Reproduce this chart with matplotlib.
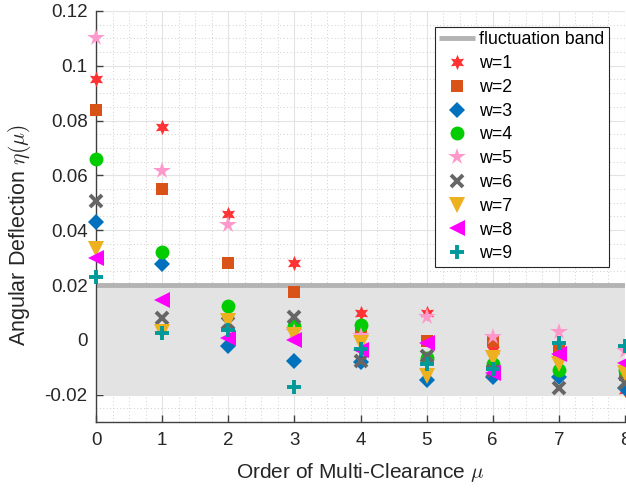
import matplotlib
matplotlib.use("Agg")
import matplotlib.pyplot as plt
from matplotlib.ticker import MultipleLocator, FuncFormatter

plt.rcParams['font.family'] = ['Liberation Sans', 'DejaVu Sans']
plt.rcParams['mathtext.fontset'] = 'cm'

# order of multi-clearance
mu = [0, 1, 2, 3, 4, 5, 6, 7, 8]

# angular deflection for each w
w1 = [0.095, 0.0775, 0.046, 0.028, 0.0097, 0.0097, -0.0039, -0.0042, -0.0184]
w2 = [0.084, 0.055, 0.028, 0.0176, 0.0027, -0.0006, -0.0003, -0.0040, -0.0130]
w3 = [0.043, 0.0277, -0.0024, -0.0079, -0.0082, -0.0145, -0.0135, -0.0136, -0.0175]
w4 = [0.066, 0.032, 0.0125, 0.0051, 0.0055, -0.0067, -0.0090, -0.0110, -0.0110]
w5 = [0.110, 0.0615, 0.042, 0.0030, 0.0015, 0.0083, 0.0012, 0.0030, -0.0042]
w6 = [0.0505, 0.008, 0.006, 0.0085, -0.0079, -0.0058, -0.0115, -0.0176, -0.0157]
w7 = [0.033, 0.003, 0.0067, 0.0018, -0.0010, -0.0133, -0.0067, -0.0090, -0.0120]
w8 = [0.030, 0.0145, 0.0006, 0.0000, -0.0036, -0.0012, -0.0120, -0.0052, -0.0084]
w9 = [0.023, 0.0025, 0.0036, -0.0173, -0.0034, -0.0087, -0.0105, -0.0010, -0.0022]

band = 0.02

series = [w1, w2, w3, w4, w5, w6, w7, w8, w9]
labels = ['w=1', 'w=2', 'w=3', 'w=4', 'w=5', 'w=6', 'w=7', 'w=8', 'w=9']
markers = [(6, 1, 0), 's', 'D', 'o', '*', 'x', 'v', '<', '+']
colors = ['#ff3333', '#d95319', '#0072bd', '#00cc00', '#ff99cc',
          '#666666', '#edb120', '#ff00ff', '#009999']
sizes = [11, 9, 8, 10, 13, 8, 11, 11, 10]

fig = plt.figure(figsize=(6.26, 4.9), dpi=100)
ax = fig.add_axes([96 / 626, 68 / 490, 529 / 626, 411 / 490])

# grid under everything
ax.set_axisbelow(True)
ax.grid(True, which='major', color='#e3e3e3', lw=0.8, ls='-')
ax.grid(True, which='minor', color='#cfcfcf', lw=0.7, ls=(0, (1, 2.5)))

# fluctuation band
ax.fill_between([mu[0], mu[-1]], -band, band, color='#e3e3e3', lw=0, zorder=1.5)
ax.plot([mu[0], mu[-1]], [band, band], color='#b3b3b3', lw=3.5,
        label='fluctuation band', zorder=1.6, solid_capstyle='butt')

for y, lab, m, c, s in zip(series, labels, markers, colors, sizes):
    if m in ('x', '+'):
        ax.plot(mu, y, ls='none', marker=m, color=c, ms=s, mew=2.8,
                label=lab, clip_on=False, zorder=3)
    else:
        ax.plot(mu, y, ls='none', marker=m, color=c, ms=s, mew=0,
                label=lab, clip_on=False, zorder=3)

ax.set_xlim(0, 8)
ax.set_ylim(-0.03, 0.12)
ax.xaxis.set_major_locator(MultipleLocator(1))
ax.xaxis.set_minor_locator(MultipleLocator(0.25))
ax.yaxis.set_major_locator(MultipleLocator(0.02))
ax.yaxis.set_minor_locator(MultipleLocator(0.005))
ax.yaxis.set_major_formatter(FuncFormatter(lambda v, p: '%g' % round(v, 4)))

for side in ['top', 'right']:
    ax.spines[side].set_visible(False)
for side in ['left', 'bottom']:
    ax.spines[side].set_color('#404040')
    ax.spines[side].set_linewidth(1.0)
    ax.spines[side].set_zorder(2.5)

ax.tick_params(which='major', direction='in', length=5, width=1, colors='#404040',
               labelsize=13.5, labelcolor='#262626')
ax.tick_params(axis='x', pad=7.5)
ax.tick_params(axis='y', pad=6)
ax.tick_params(which='minor', length=0)

ax.set_xlabel(r'Order of Multi-Clearance $\mu$', fontsize=15, color='#262626')
ax.set_ylabel(r'Angular Deflection $\eta(\mu)$', fontsize=15.5, color='#262626')
ax.xaxis.set_label_coords(0.5, -0.095)
ax.yaxis.set_label_coords(-0.119, 0.454)

leg = ax.legend(loc='upper right', bbox_to_anchor=(0.970, 0.961), borderaxespad=0,
                fontsize=12.8, fancybox=False, framealpha=1, edgecolor='#262626',
                handlelength=2.0, handletextpad=0.25, labelspacing=0.38,
                borderpad=0.25)
leg.get_frame().set_linewidth(0.8)
leg.set_zorder(5)

fig.savefig('out.png', dpi=100)
